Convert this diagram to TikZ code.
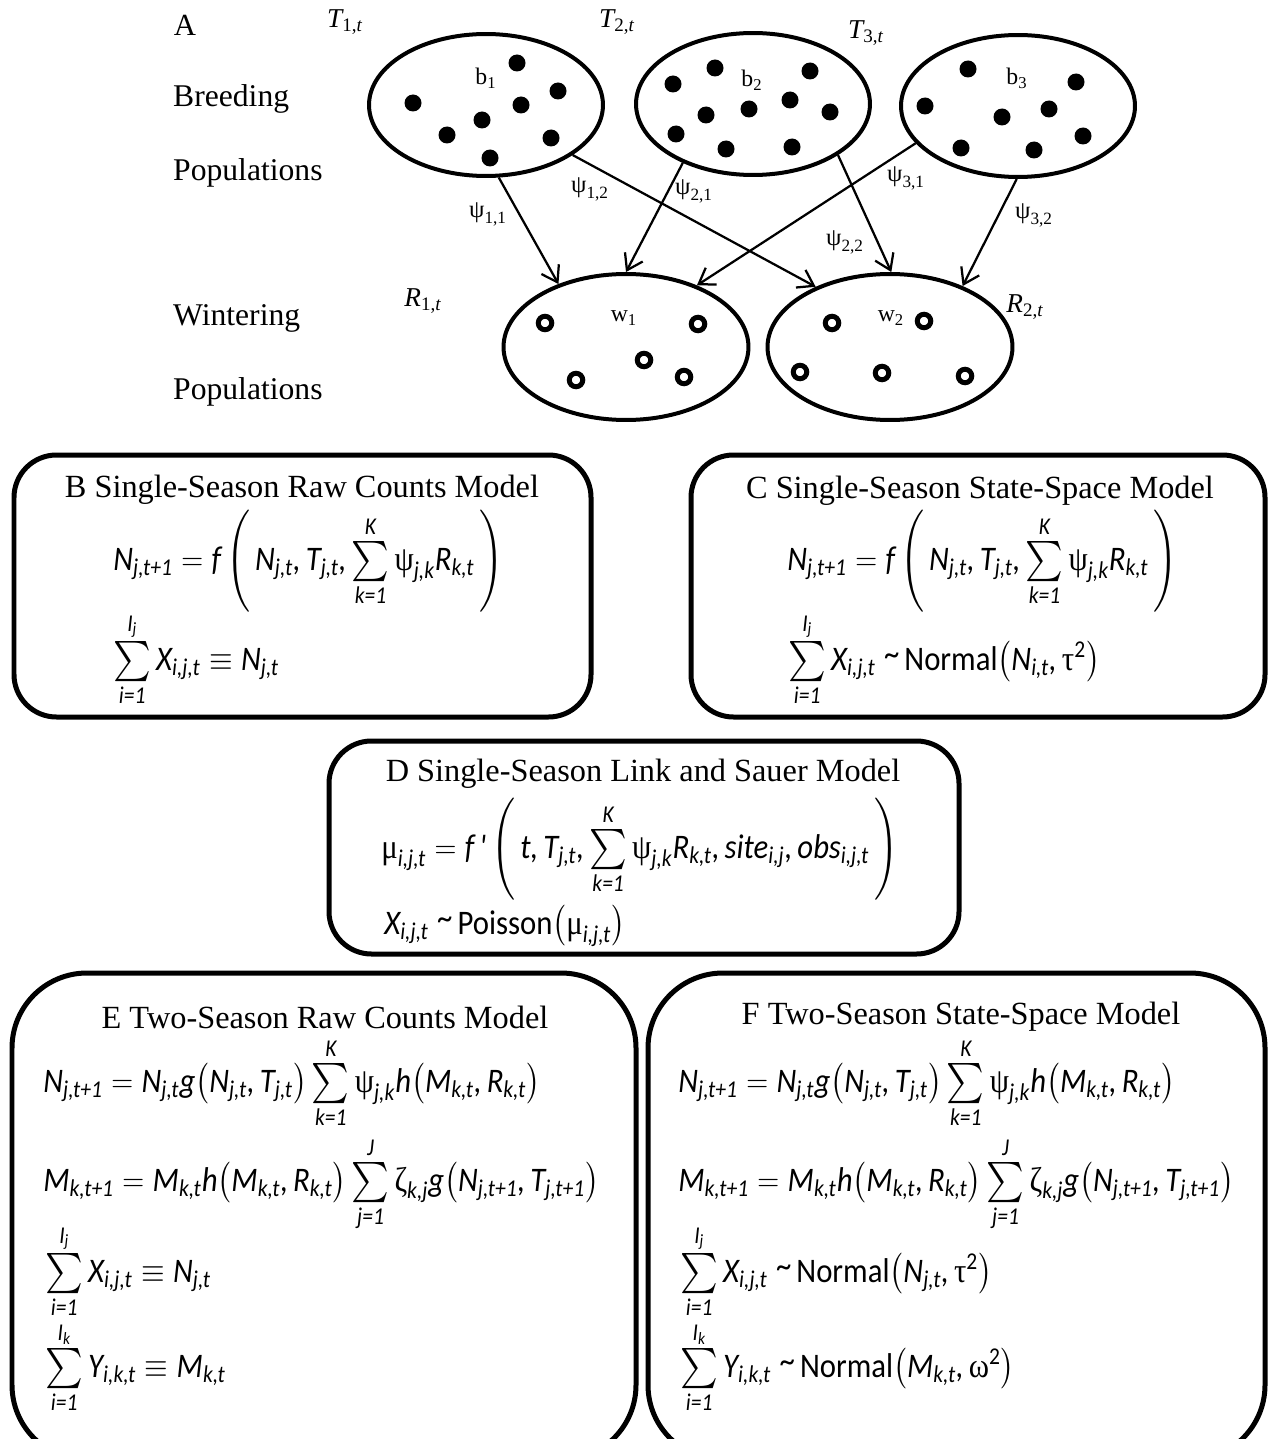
\documentclass[tikz,border=0pt]{standalone}
\usepackage{amsmath}
\usepackage{graphicx}
\usepackage{fontspec}
\setmainfont{Liberation Serif}
\newfontfamily\eqfont{Carlito}
\usetikzlibrary{shapes.geometric,arrows.meta}

\newcommand{\sv}[2]{\text{#1}_{\text{#2}}}
\newcommand{\gk}[1]{\text{\rmfamily\upshape #1}}
\newcommand{\up}[1]{\text{\upshape #1}}
\newcommand{\tl}{\text{\upshape\raisebox{0.25ex}{\char"7E}}}
\newcommand{\bsum}{\mathop{\vcenter{\hbox{\scalebox{1.18}{$\sum$}}}}\limits}
\newcommand{\fs}[1]{\fontsize{#1}{1.2\dimexpr#1pt\relax}\selectfont}

\tikzset{
  pop/.style={ellipse,draw,line width=0.08cm,inner sep=0pt,minimum width=4.68cm,minimum height=2.84cm},
  conn/.style={-{Straight Barb[length=0.3cm,width=0.4cm]},line width=0.045cm},
  panel/.style={line width=0.1cm,rounded corners=0.85cm},
  bigpanel/.style={line width=0.1cm,rounded corners=1.5cm},
  ttl/.style={font=\fs{18.4}},
  lab/.style={font=\fs{18},anchor=west},
  psi/.style={font=\fs{14}},
  eq/.style={font=\eqfont\itshape\fs{17.5},anchor=base west,inner sep=0pt,yscale=1.12}
}

\begin{document}
\begin{tikzpicture}[x=0.02cm,y=-0.02cm]
  \useasboundingbox (0,0) rectangle (1268,1439);
  \clip (0,0) rectangle (1268,1439);

  % panel A
  \node[font=\fs{17.5}] (tA) at (185,25) {A};
  \node[lab] (br1) at (167,99) {Breeding};
  \node[lab] (br2) at (167,173) {Populations};
  \node[lab] (wi1) at (167,318) {Wintering};
  \node[lab] (wi2) at (167,392) {Populations};

  \node[pop] (b1) at (486,105) {};
  \node[pop] (b2) at (753,104) {};
  \node[pop] (b3) at (1018,106) {};
  \node[pop,minimum width=4.9cm,minimum height=2.92cm] (w1) at (626,347) {};
  \node[pop,minimum width=4.9cm,minimum height=2.92cm] (w2) at (890,347) {};

  \foreach \p in {(517,63),(413,103),(558,91),(521,105),(482,120),(447,135),(551,138),(490,158),
                  (715,68),(810,71),(673,84),(790,100),(749,109),(706,115),(830,112),(676,134),(726,149),(792,147),
                  (968,69),(1076,82),(925,106),(1002,117),(1049,109),(1083,136),(961,148),(1034,150)}
    \fill \p circle[radius=0.17cm];
  \foreach \p in {(545,323),(698,324),(644,360),(576,380),(684,377),
                  (832,323),(924,321),(800,372),(882,373),(965,376)}
    \draw[line width=0.1cm] \p circle[radius=0.135cm];

  \node[font=\fs{13.5}] (lb1) at (486,78) {$\text{b}_{\text{1}}$};
  \node[font=\fs{13.5}] (lb2) at (752,80) {$\text{b}_{\text{2}}$};
  \node[font=\fs{13.5}] (lb3) at (1017,78) {$\text{b}_{\text{3}}$};
  \node[font=\fs{13.5}] (lw1) at (624,318) {$\text{w}_{\text{1}}$};
  \node[font=\fs{13.5}] (lw2) at (891,318) {$\text{w}_{\text{2}}$};

  \node[font=\fs{15.5}] (T1) at (345,22) {$\sv{\itshape T}{1,\itshape t}$};
  \node[font=\fs{15.5}] (T2) at (617,22) {$\sv{\itshape T}{2,\itshape t}$};
  \node[font=\fs{15.5}] (T3) at (866,33) {$\sv{\itshape T}{3,\itshape t}$};
  \node[font=\fs{15.5}] (R1) at (423,301) {$\sv{\itshape R}{1,\itshape t}$};
  \node[font=\fs{15.5}] (R2) at (1025,307) {$\sv{\itshape R}{2,\itshape t}$};

  \draw[conn] (b1.-80) -- (w1.137);
  \draw[conn] (b1.-30) -- (w2.141);
  \draw[conn] (b2.-140) -- (w1.90);
  \draw[conn] (b2.-31) -- (w2.89);
  \draw[conn] (b3.-160) -- (w1.41);
  \draw[conn] (b3.-91) -- (w2.40);

  \node[psi] (p11) at (488,214) {$\sv{ψ}{1,1}$};
  \node[psi] (p12) at (590,189) {$\sv{ψ}{1,2}$};
  \node[psi] (p21) at (694,191) {$\sv{ψ}{2,1}$};
  \node[psi] (p31) at (906,178) {$\sv{ψ}{3,1}$};
  \node[psi] (p22) at (845,242) {$\sv{ψ}{2,2}$};
  \node[psi] (p32) at (1034,215) {$\sv{ψ}{3,2}$};

  % panels B to F
  \draw[panel] (14,455) rectangle (591,717);
  \draw[panel] (691,455) rectangle (1265,717);
  \draw[panel] (329,741) rectangle (959,954);
  \draw[bigpanel] (12,973) rectangle (636,1460);
  \draw[bigpanel] (648,973) rectangle (1265,1460);

  \node[ttl] (tB) at (302,490) {B Single-Season Raw Counts Model};
  \node[ttl] (tC) at (980,491) {C Single-Season State-Space Model};
  \node[ttl] (tD) at (643,774) {D Single-Season Link and Sauer Model};
  \node[ttl] (tE) at (325,1017) {E Two-Season Raw Counts Model};
  \node[ttl] (tF) at (961,1017) {F Two-Season State-Space Model};

  \node[eq] (eB1) at (113,570) {$\sv{N}{j,t+1}=\text{f}\left(\,\sv{N}{j,t}\text{,}\,\sv{T}{j,t}\text{,}\bsum_{\text{k=1}}^{\text{K}}\gk{ψ}_{\text{j,k}}\sv{R}{k,t}\,\right)$};
  \node[eq] (eB2) at (113,670) {$\bsum_{\text{i=1}}^{\sv{I}{j}}\sv{X}{i,j,t}\equiv\sv{N}{j,t}$};

  \node[eq] (eC1) at (787,570) {$\sv{N}{j,t+1}=\text{f}\left(\,\sv{N}{j,t}\text{,}\,\sv{T}{j,t}\text{,}\bsum_{\text{k=1}}^{\text{K}}\gk{ψ}_{\text{j,k}}\sv{R}{k,t}\,\right)$};
  \node[eq] (eC2) at (788,670) {$\bsum_{\text{i=1}}^{\sv{I}{j}}\sv{X}{i,j,t}\;\tl\,\up{Normal}\bigl(\sv{N}{i,t}\text{,}\,\gk{τ}^{\up{2}}\bigr)$};

  \node[eq] (eD1) at (381,858) {$\gk{μ}_{\text{i,j,t}}=\text{f\,\char"27}\left(\,\text{t,}\,\sv{T}{j,t}\text{,}\bsum_{\text{k=1}}^{\text{K}}\gk{ψ}_{\text{j,k}}\sv{R}{k,t}\text{,}\,\sv{site}{i,j}\text{,}\,\sv{obs}{i,j,t}\,\right)$};
  \node[eq] (eD2) at (384,934) {$\sv{X}{i,j,t}\;\tl\,\up{Poisson}\bigl(\gk{μ}_{\text{i,j,t}}\bigr)$};

  \foreach \n/\x in {E/43,F/678} {
    \node[eq] (e\n1) at (\x,1092) {$\sv{N}{j,t+1}=\sv{N}{j,t}\text{g}\bigl(\sv{N}{j,t}\text{,}\,\sv{T}{j,t}\bigr)\bsum_{\text{k=1}}^{\text{K}}\gk{ψ}_{\text{j,k}}\text{h}\bigl(\sv{M}{k,t}\text{,}\,\sv{R}{k,t}\bigr)$};
    \node[eq] (e\n2) at (\x,1191) {$\sv{M}{k,t+1}=\sv{M}{k,t}\text{h}\bigl(\sv{M}{k,t}\text{,}\,\sv{R}{k,t}\bigr)\bsum_{\text{j=1}}^{\text{J}}\gk{ζ}_{\text{k,j}}\text{g}\bigl(\sv{N}{j,t+1}\text{,}\,\sv{T}{j,t+1}\bigr)$};
  }
  \node[eq] (eE3) at (45,1282) {$\bsum_{\text{i=1}}^{\sv{I}{j}}\sv{X}{i,j,t}\equiv\sv{N}{j,t}$};
  \node[eq] (eE4) at (45,1377) {$\bsum_{\text{i=1}}^{\sv{I}{k}}\sv{Y}{i,k,t}\equiv\sv{M}{k,t}$};
  \node[eq] (eF3) at (680,1282) {$\bsum_{\text{i=1}}^{\sv{I}{j}}\sv{X}{i,j,t}\;\tl\,\up{Normal}\bigl(\sv{N}{j,t}\text{,}\,\gk{τ}^{\up{2}}\bigr)$};
  \node[eq] (eF4) at (680,1377) {$\bsum_{\text{i=1}}^{\sv{I}{k}}\sv{Y}{i,k,t}\;\tl\,\up{Normal}\bigl(\sv{M}{k,t}\text{,}\,\gk{ω}^{\up{2}}\bigr)$};
\end{tikzpicture}
\end{document}
